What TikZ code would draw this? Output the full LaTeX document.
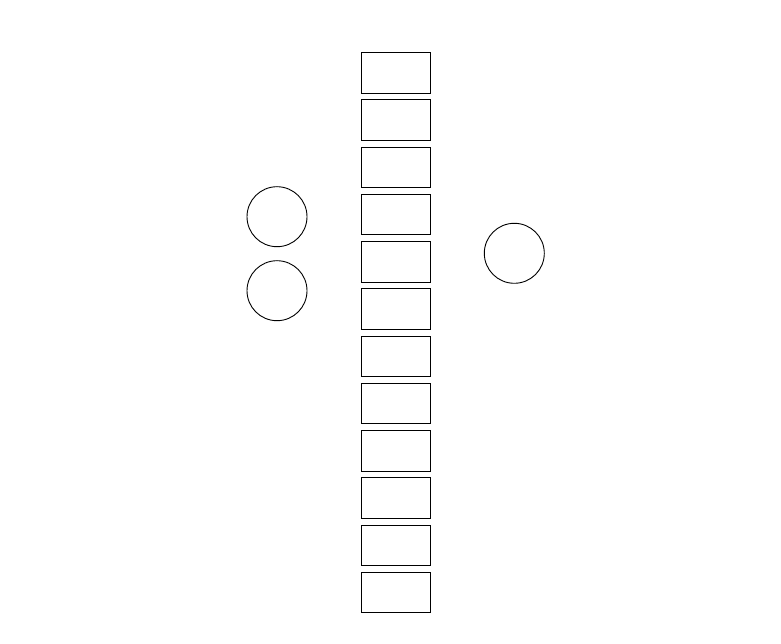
\documentclass[tikz,border=0pt]{standalone}
\usepackage{tikz}
\usetikzlibrary{positioning}
\tikzset{
    cell/.style={draw, rectangle, line width=0.9pt, minimum width=69.5pt, minimum height=40.5pt, inner sep=0pt},
    unit/.style={draw, circle, line width=0.9pt, minimum size=60pt, inner sep=0pt}
}
\begin{document}
\begin{tikzpicture}[
            x=1pt, y=1pt,
            node distance=5.85pt
        ]
            \useasboundingbox (0,0) rectangle (781,643);

            % Column of cells
            \node[cell] (c1) at (395.8, 570.1) {};
            \node[cell, below=of c1] (c2) {};
            \node[cell, below=of c2] (c3) {};
            \node[cell, below=of c3] (c4) {};
            \node[cell, below=of c4] (c5) {};
            \node[cell, below=of c5] (c6) {};
            \node[cell, below=of c6] (c7) {};
            \node[cell, below=of c7] (c8) {};
            \node[cell, below=of c8] (c9) {};
            \node[cell, below=of c9] (c10) {};
            \node[cell, below=of c10] (c11) {};
            \node[cell, below=of c11] (c12) {};

            % Left units
            \node[unit] (in1) at (277, 426.3) {};
            \node[unit, below=13.1pt of in1] (in2) {};

            % Right unit
            \node[unit] (out1) at (514.3, 389.7) {};

        \end{tikzpicture}
\end{document}
